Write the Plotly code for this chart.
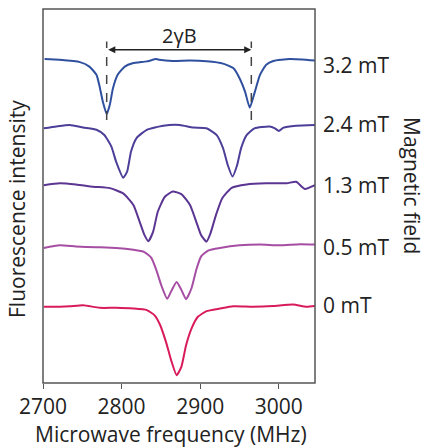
import plotly.graph_objects as go

# Microwave frequency (MHz) and fluorescence intensity (a.u., traces stacked as drawn)
f_32 = [2702, 2721, 2747, 2759, 2768, 2772, 2776, 2781, 2785, 2789, 2795, 2804, 2814, 2832, 2844, 2848,
        2865, 2887, 2908, 2929, 2942, 2950, 2957, 2963, 2969, 2976, 2984, 2993, 3014, 3046]
i_32 = [86.6, 86.4, 85.8, 84.6, 82.4, 79.3, 75.3, 71.9, 74.4, 78.8, 82.4, 84.6, 85.5, 86.0, 86.6, 86.4,
        86.1, 86.2, 86.0, 85.4, 84.2, 81.5, 77.9, 73.6, 77.5, 82.4, 85.1, 86.1, 86.6, 86.2]

f_24 = [2701, 2717, 2734, 2751, 2768, 2778, 2787, 2793, 2802, 2807, 2812, 2819, 2832, 2853, 2874, 2891,
        2908, 2921, 2929, 2935, 2941, 2947, 2952, 2959, 2969, 2988, 2995, 3000, 3006, 3022, 3046]
i_24 = [68.1, 68.6, 69.0, 68.3, 67.7, 66.3, 63.2, 59.2, 54.9, 56.5, 61.9, 65.5, 67.7, 68.8, 69.0, 68.3,
        68.1, 66.3, 62.8, 58.3, 55.2, 58.3, 62.8, 66.3, 68.1, 68.6, 68.1, 67.4, 68.3, 68.8, 69.0]

f_13 = [2701, 2721, 2742, 2764, 2785, 2802, 2815, 2823, 2829, 2834, 2840, 2846, 2855, 2865, 2876, 2887,
        2895, 2901, 2908, 2913, 2920, 2928, 2940, 2959, 2984, 3010, 3022, 3033, 3046]
i_13 = [52.9, 53.4, 53.1, 52.5, 52.1, 50.7, 47.6, 43.1, 39.6, 37.9, 40.4, 45.8, 49.8, 51.2, 50.5, 47.6,
        43.1, 39.6, 37.8, 40.0, 44.9, 49.4, 52.2, 53.1, 53.4, 53.4, 53.8, 51.9, 52.9]

f_05 = [2701, 2721, 2742, 2768, 2793, 2815, 2829, 2838, 2844, 2851, 2858, 2863, 2870, 2876, 2882, 2889,
        2895, 2901, 2910, 2925, 2950, 2976, 3001, 3027, 3046]
i_05 = [36.1, 36.8, 36.5, 36.3, 36.1, 35.6, 35.0, 33.4, 30.3, 25.8, 22.5, 24.5, 27.0, 24.9, 22.4, 25.4,
        30.3, 33.8, 35.4, 36.1, 36.8, 37.0, 36.8, 37.1, 37.0]

f_00 = [2701, 2721, 2734, 2751, 2772, 2793, 2815, 2832, 2842, 2849, 2857, 2863, 2870, 2876, 2882, 2889,
        2897, 2908, 2925, 2942, 2967, 2993, 3018, 3035, 3046]
i_00 = [20.4, 20.4, 20.5, 20.8, 20.1, 20.1, 19.9, 19.5, 18.1, 15.5, 10.6, 6.1, 2.1, 4.3, 10.1, 14.6,
        17.7, 19.2, 19.9, 20.5, 20.4, 20.6, 21.0, 20.4, 20.6]

field_labels = ["3.2 mT", "2.4 mT", "1.3 mT", "0.5 mT", "0 mT"]
label_levels = [85.1, 69.3, 52.9, 36.3, 20.8]
dip_marks = [2781, 2965]
x_ticks = [2700, 2800, 2900, 3000]

FONT = "Open Sans"
TXT = "#222222"
colors = ["#2f4f9f", "#4b3f99", "#5b3592", "#a64ea3", "#d81b5a"]
series = [(f_32, i_32), (f_24, i_24), (f_13, i_13), (f_05, i_05), (f_00, i_00)]

W, H = 427, 447
ML, MR, MT, MB = 43, 112, 9, 64
PW, PH = W - ML - MR, H - MT - MB


def px_x(px):
    return (px - ML) / PW


def px_y(py):
    return (H - MB - py) / PH


fig = go.Figure()
for (fx, iy), c, name in zip(series, colors, field_labels):
    fig.add_trace(go.Scatter(x=fx, y=iy, mode="lines", name=name,
                             line=dict(color=c, width=2, shape="spline", smoothing=0.5),
                             showlegend=False, hoverinfo="skip"))

# frame
fig.add_shape(type="rect", xref="paper", yref="paper", x0=0, x1=1, y0=0, y1=1,
              line=dict(color="#555555", width=1.5))

# dashed markers of the two dips of the top trace
for xm in dip_marks:
    fig.add_shape(type="line", x0=xm, x1=xm, y0=70.3, y1=91.3, xref="x", yref="y",
                  line=dict(color="#444444", width=1.5, dash="dash"))

# double arrow 2γB
fig.add_annotation(x=dip_marks[1], y=89.1, ax=dip_marks[0], ay=89.1, xref="x", yref="y",
                   axref="x", ayref="y", text="", showarrow=True, arrowhead=2, startarrowhead=2,
                   arrowside="end+start", arrowsize=1.1, arrowwidth=1.3, arrowcolor=TXT)
fig.add_annotation(x=(dip_marks[0] + dip_marks[1]) / 2, y=93.0, xref="x", yref="y", text="2γB",
                   showarrow=False, xanchor="center", yanchor="middle",
                   font=dict(family=FONT, size=20, color=TXT))

for lab, lv in zip(field_labels, label_levels):
    fig.add_annotation(x=1, xref="paper", y=lv, yref="y", text=lab, showarrow=False,
                       xanchor="left", yanchor="middle", xshift=6,
                       font=dict(family=FONT, size=21, color=TXT))

fig.add_annotation(x=px_x(412), y=px_y(185), xref="paper", yref="paper", text="Magnetic field",
                   showarrow=False, textangle=90, xanchor="center", yanchor="middle",
                   font=dict(family=FONT, size=21, color=TXT))
fig.add_annotation(x=px_x(17), y=px_y(209), xref="paper", yref="paper", text="Fluorescence intensity",
                   showarrow=False, textangle=-90, xanchor="center", yanchor="middle",
                   font=dict(family=FONT, size=21, color=TXT))
fig.add_annotation(x=px_x(171), y=px_y(434), xref="paper", yref="paper",
                   text="Microwave frequency (MHz)", xanchor="center", yanchor="middle",
                   showarrow=False, font=dict(family=FONT, size=21, color=TXT))

fig.update_layout(
    width=W, height=H,
    margin=dict(l=ML, r=MR, t=MT, b=MB),
    paper_bgcolor="white", plot_bgcolor="white",
    font=dict(family=FONT, size=21, color=TXT),
)
fig.update_xaxes(range=[2700, 3046], tickvals=x_ticks, ticks="outside", ticklen=5, tickwidth=1.3,
                 tickcolor="#555555", showline=False, showgrid=False, zeroline=False,
                 automargin=False, tickfont=dict(family=FONT, size=21, color=TXT))
fig.update_yaxes(range=[0, 100], showticklabels=False, ticks="", showline=False, showgrid=False,
                 zeroline=False, automargin=False)

fig.write_html("out.html", config={"displayModeBar": False},
               post_script="document.body.style.margin='0px';document.body.style.padding='0px';")
